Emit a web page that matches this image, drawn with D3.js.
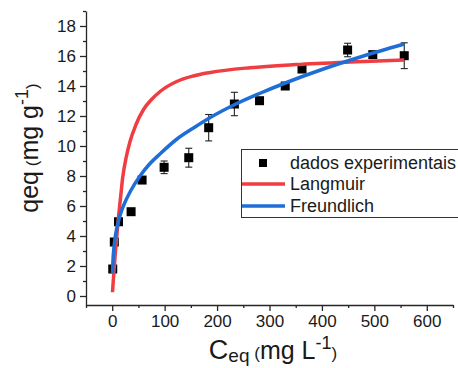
<!DOCTYPE html>
<html>
<head>
<meta charset="utf-8">
<script src="https://cdn.jsdelivr.net/npm/d3@7/dist/d3.min.js"></script>
<style>
  html, body { margin: 0; padding: 0; background: #fff; }
  svg { display: block; font-family: "Liberation Sans", Arial, sans-serif; }
</style>
</head>
<body>
<svg id="chart" width="458" height="368"></svg>
<script>
// Experimental equilibrium data: Ceq (mg L-1), qeq (mg g-1), error
const ceq    = [1, 4, 12, 36, 57, 99, 146, 184, 233, 281, 330, 362, 449, 497, 557];
const qeq    = [1.8, 3.6, 4.95, 5.62, 7.73, 8.58, 9.22, 11.22, 12.8, 13.02, 14.0, 15.13, 16.4, 16.09, 16.02];
const qeqErr = [0.2, 0.2, 0.15, 0, 0, 0.42, 0.63, 0.88, 0.78, 0, 0, 0.15, 0.45, 0.15, 0.86];

// Fitted isotherm curves
const langmuirC = [0.5, 3, 6, 9, 12, 16, 20, 27, 34, 45, 60, 75, 92, 123, 155, 187, 263, 350, 454, 557];
const langmuirQ = [0.25, 1.5, 2.9, 4.1, 5.25, 6.6, 7.9, 9.3, 10.3, 11.4, 12.45, 13.1, 13.65, 14.3, 14.67, 14.9, 15.22, 15.43, 15.6, 15.73];

const freundlichC = [0.5, 1.5, 3, 5, 8, 12, 18, 25, 35, 53, 70, 92, 123, 155, 187, 230, 281, 330, 400, 470, 557];
const freundlichQ = [1.5, 2.4, 3.1, 3.75, 4.4, 5.0, 5.7, 6.3, 7.0, 8.0, 8.75, 9.5, 10.45, 11.2, 11.9, 12.7, 13.5, 14.2, 15.1, 15.9, 16.8];

// Axis ticks
const xMajorTicks = [0, 100, 200, 300, 400, 500, 600];
const xMinorTicks = [-50, 50, 150, 250, 350, 450, 550, 650];
const yMajorTicks = [0, 2, 4, 6, 8, 10, 12, 14, 16, 18];
const yMinorTicks = [1, 3, 5, 7, 9, 11, 13, 15, 17, 19];

const legendLabels = ["dados experimentais", "Langmuir", "Freundlich"];

const RED = "#EF3D42";
const BLUE = "#1F6ED8";
const AXIS = "#262626";

const svg = d3.select("#chart");

const x = d3.scaleLinear().domain([-50, 650]).range([86, 453]);
const y = d3.scaleLinear().domain([-0.6, 19]).range([305, 11]);

// Axes
const gx = svg.append("g").attr("transform", `translate(0,${y(-0.6)})`);
gx.call(d3.axisBottom(x).tickValues(xMajorTicks).tickSize(6).tickSizeOuter(0).tickPadding(4).tickFormat(d3.format("d")));
svg.append("g").attr("transform", `translate(0,${y(-0.6)})`)
  .call(d3.axisBottom(x).tickValues(xMinorTicks).tickSize(3).tickSizeOuter(0).tickFormat(""))
  .select(".domain").remove();

const gy = svg.append("g").attr("transform", `translate(${x(-50)},0)`);
gy.call(d3.axisLeft(y).tickValues(yMajorTicks).tickSize(6).tickSizeOuter(0).tickPadding(4).tickFormat(d3.format("d")));
svg.append("g").attr("transform", `translate(${x(-50)},0)`)
  .call(d3.axisLeft(y).tickValues(yMinorTicks).tickSize(3).tickSizeOuter(0).tickFormat(""))
  .select(".domain").remove();

svg.selectAll(".domain, .tick line").attr("stroke", AXIS).attr("stroke-width", 1.3);
svg.selectAll(".tick text").attr("font-size", 17).attr("fill", "#1a1a1a")
  .attr("font-family", "'Liberation Sans', Arial, sans-serif");

// Error bars
const pts = ceq.map((c, i) => ({ c, q: qeq[i], e: qeqErr[i] }));
const errG = svg.append("g").attr("stroke", "#222").attr("stroke-width", 1.1);
pts.filter(d => d.e > 0).forEach(d => {
  errG.append("line").attr("x1", x(d.c)).attr("x2", x(d.c)).attr("y1", y(d.q - d.e)).attr("y2", y(d.q + d.e));
  errG.append("line").attr("x1", x(d.c) - 3.5).attr("x2", x(d.c) + 3.5).attr("y1", y(d.q - d.e)).attr("y2", y(d.q - d.e));
  errG.append("line").attr("x1", x(d.c) - 3.5).attr("x2", x(d.c) + 3.5).attr("y1", y(d.q + d.e)).attr("y2", y(d.q + d.e));
});

// Data markers
const ms = 9;
svg.append("g").selectAll("rect").data(pts).join("rect")
  .attr("x", d => x(d.c) - ms / 2).attr("y", d => y(d.q) - ms / 2)
  .attr("width", ms).attr("height", ms).attr("fill", "#000");

// Fit curves
const line = d3.line().x(d => x(d[0])).y(d => y(d[1])).curve(d3.curveMonotoneX);
svg.append("path").datum(langmuirC.map((c, i) => [c, langmuirQ[i]]))
  .attr("d", line).attr("fill", "none").attr("stroke", RED).attr("stroke-width", 3.5);
svg.append("path").datum(freundlichC.map((c, i) => [c, freundlichQ[i]]))
  .attr("d", line).attr("fill", "none").attr("stroke", BLUE).attr("stroke-width", 3.5);

// Legend
const lg = svg.append("g");
lg.append("rect").attr("x", 241.5).attr("y", 149.5).attr("width", 240).attr("height", 68)
  .attr("fill", "#fff").attr("stroke", "#333").attr("stroke-width", 1);
const rowsY = [163, 184, 206];
lg.append("rect").attr("x", 263 - 4).attr("y", rowsY[0] - 4).attr("width", 8).attr("height", 8).attr("fill", "#000");
lg.append("line").attr("x1", 242).attr("x2", 285).attr("y1", rowsY[1]).attr("y2", rowsY[1])
  .attr("stroke", RED).attr("stroke-width", 3.5);
lg.append("line").attr("x1", 242).attr("x2", 285).attr("y1", rowsY[2]).attr("y2", rowsY[2])
  .attr("stroke", BLUE).attr("stroke-width", 3.5);
lg.selectAll("text.lbl").data(legendLabels).join("text").attr("class", "lbl")
  .attr("x", 290).attr("y", (d, i) => rowsY[i]).attr("dy", "0.35em")
  .attr("font-size", 18).attr("fill", "#1a1a1a").text(d => d);

// Axis titles
const xt = svg.append("text").attr("x", 273).attr("y", 359).attr("text-anchor", "middle").attr("fill", "#1a1a1a");
xt.append("tspan").attr("font-size", 27).text("C");
xt.append("tspan").attr("font-size", 19).attr("dy", 3).text("eq");
xt.append("tspan").attr("font-size", 17).attr("dy", -3).text(" (");
xt.append("tspan").attr("font-size", 25).text("mg L");
xt.append("tspan").attr("font-size", 18).attr("dy", -10).text("-1");
xt.append("tspan").attr("font-size", 17).attr("dy", 10).text(")");

const yt = svg.append("text").attr("transform", "translate(38,148) rotate(-90)")
  .attr("text-anchor", "middle").attr("fill", "#1a1a1a");
yt.append("tspan").attr("font-size", 25).text("qeq");
yt.append("tspan").attr("font-size", 17).text(" (");
yt.append("tspan").attr("font-size", 25).text("mg g");
yt.append("tspan").attr("font-size", 18).attr("dy", -10).text("-1");
yt.append("tspan").attr("font-size", 17).attr("dy", 10).text(")");
</script>
</body>
</html>
